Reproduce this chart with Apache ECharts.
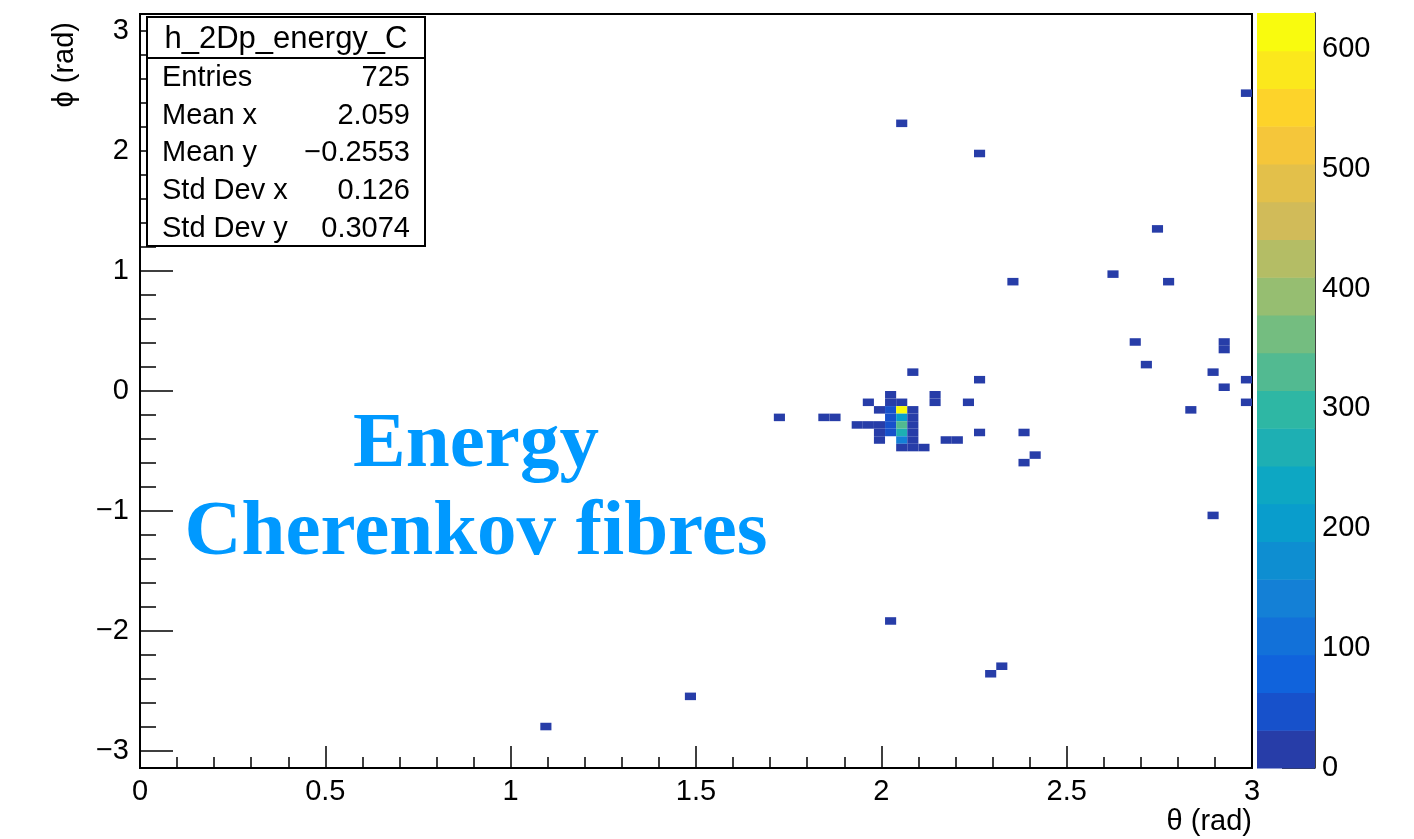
<!DOCTYPE html>
<html>
<head>
<meta charset="utf-8">
<script src="https://cdn.jsdelivr.net/npm/echarts@6/dist/echarts.min.js"></script>
<style>
  html, body { margin: 0; padding: 0; background: #ffffff; }
  #chart { width: 1414px; height: 839px; }
</style>
</head>
<body>
<div id="chart"></div>
<script>
// TH2 binning: 100 x 100 bins, theta in [0, 3] rad, phi in [-pi, pi] rad
const NX = 100, X_MIN = 0, X_MAX = 3;
const NY = 100, Y_MIN = -Math.PI, Y_MAX = Math.PI;

// Filled bins: theta bin index, phi bin index, summed energy in the bin
const binTheta  = [36, 49, 67, 76, 77, 96, 68, 75, 99, 91, 78, 87, 92, 89, 97, 97, 90, 96, 99, 97, 99, 94,
                   69, 75, 67, 71, 65, 67, 68, 71, 74, 66, 67, 68, 69, 57, 61, 62, 67, 68, 69,
                   64, 65, 66, 67, 68, 69, 66, 67, 68, 69, 75, 79, 66, 68, 69, 72, 73, 68, 69, 70, 80, 79];
const binPhi    = [ 5,  9, 19, 12, 13, 33, 85, 81, 89, 71, 64, 65, 64, 56, 56, 55, 53, 52, 51, 50, 48, 47,
                   52, 51, 49, 49, 48, 48, 48, 48, 48, 47, 47, 47, 47, 46, 46, 46, 46, 46, 46,
                   45, 45, 45, 45, 45, 45, 44, 44, 44, 44, 44, 44, 43, 43, 43, 43, 43, 42, 42, 42, 41, 40];
const binEnergy = [12,  9, 14,  8, 11,  7, 10,  6, 13,  9,  8, 11,  7, 10, 12,  9,  8,  6, 14,  7, 10,  9,
                   11,  8, 22,  9,  7, 26, 18, 12,  6, 15, 48, 630, 24,  5,  8,  6, 56, 205, 28,
                    6,  9, 17, 52, 330, 27, 13, 45, 268, 25,  7,  9, 11, 140, 21,  8, 10, 16, 19, 12,  8, 10];

// Axis tick values and labels
const xTickValues = [0, 0.5, 1, 1.5, 2, 2.5, 3];
const yTickValues = [-3, -2, -1, 0, 1, 2, 3];
const zTickValues = [0, 100, 200, 300, 400, 500, 600];
const zMax = 630;
const nContours = 20;

// Stats box contents
const statsTitle = 'h_2Dp_energy_C';
const statsNames  = ['Entries', 'Mean x', 'Mean y', 'Std Dev x', 'Std Dev y'];
const statsValues = ['725', '2.059', '\u22120.2553', '0.126', '0.3074'];

// kBird palette
const birdStops = [0.0, 0.125, 0.25, 0.375, 0.5, 0.625, 0.75, 0.875, 1.0];
const birdR = [0.2082, 0.0592, 0.0780, 0.0232, 0.1802, 0.5301, 0.8186, 0.9956, 0.9764];
const birdG = [0.1664, 0.3599, 0.5041, 0.6419, 0.7178, 0.7492, 0.7328, 0.7862, 0.9832];
const birdB = [0.5293, 0.8684, 0.8385, 0.7914, 0.6425, 0.4662, 0.3499, 0.1968, 0.0539];
function bird(t) {
  let s = 1;
  while (s < birdStops.length - 1 && t > birdStops[s]) s++;
  const f = (t - birdStops[s - 1]) / (birdStops[s] - birdStops[s - 1]);
  const c = (a) => Math.round(255 * (a[s - 1] + (a[s] - a[s - 1]) * f));
  return 'rgb(' + c(birdR) + ',' + c(birdG) + ',' + c(birdB) + ')';
}
const contourColors = [];
for (let k = 0; k < nContours; k++) {
  const idx = Math.floor((k + 0.99) * 255 / nContours);
  contourColors.push(bird(Math.min(1, idx / 254)));
}
const zStep = zMax / nContours;
function colorOf(v) {
  const k = Math.min(nContours - 1, Math.max(0, Math.floor(v / zStep)));
  return contourColors[k];
}

const FONT = '"Liberation Sans", Arial, Helvetica, sans-serif';
const SERIF = '"Liberation Serif", "Times New Roman", serif';
const minus = (v) => String(v).replace('-', '\u2212');

// minor tick positions on the phi axis (every 0.2 rad)
const yMinorTicks = [];
for (let k = -14; k <= 14; k++) {
  if (k % 5 !== 0) yMinorTicks.push(+(k * 0.2).toFixed(1));
}

const cellData = binTheta.map((ix, i) => [ix, binPhi[i], binEnergy[i]]);
const bandData = contourColors.map((c, k) => [k]);

const dx = (X_MAX - X_MIN) / NX, dy = (Y_MAX - Y_MIN) / NY;

const chart = echarts.init(document.getElementById('chart'), null, { renderer: 'canvas' });

const TOP = 100;
const statsGraphics = [
  { type: 'rect', z: TOP, shape: { x: 147, y: 17, width: 278, height: 229 },
    style: { fill: '#fff', stroke: '#000', lineWidth: 2 } },
  { type: 'line', z: TOP + 1, shape: { x1: 147, y1: 58, x2: 425, y2: 58 },
    style: { stroke: '#000', lineWidth: 2 } },
  { type: 'text', z: TOP + 1, style: { text: statsTitle, x: 286, y: 39, align: 'center', verticalAlign: 'middle',
    fontSize: 31, fontFamily: FONT, fill: '#000' } }
];
statsNames.forEach((name, i) => {
  const y = 78 + i * 37.7;
  statsGraphics.push({ type: 'text', z: TOP + 1, style: { text: name, x: 162, y: y, align: 'left', verticalAlign: 'middle',
    fontSize: 29, fontFamily: FONT, fill: '#000' } });
  statsGraphics.push({ type: 'text', z: TOP + 1, style: { text: statsValues[i], x: 410, y: y, align: 'right', verticalAlign: 'middle',
    fontSize: 29, fontFamily: FONT, fill: '#000' } });
});

const option = {
  animation: false,
  backgroundColor: '#ffffff',
  grid: [
    { left: 140, top: 14, width: 1112, height: 754, show: true, borderColor: '#000', borderWidth: 2,
      backgroundColor: '#fff', containLabel: false },
    { left: 1257, top: 13, width: 58, height: 755, show: false, containLabel: false }
  ],
  xAxis: [
    { type: 'value', gridIndex: 0, min: X_MIN, max: X_MAX, interval: 0.5,
      axisLine: { show: true, onZero: false, lineStyle: { color: '#000', width: 2 } },
      axisTick: { show: true, inside: true, length: 22, customValues: xTickValues,
        lineStyle: { color: '#000', width: 1.5 } },
      minorTick: { show: true, splitNumber: 5, length: 11, lineStyle: { color: '#000', width: 1.5 } },
      splitLine: { show: false },
      axisLabel: { margin: 9, fontSize: 29, fontFamily: FONT, color: '#000', customValues: xTickValues,
        formatter: (v) => minus(v) } },
    { type: 'value', gridIndex: 1, min: 0, max: 1, show: false }
  ],
  yAxis: [
    { type: 'value', gridIndex: 0, min: Y_MIN, max: Y_MAX, position: 'left',
      axisLine: { show: true, onZero: false, lineStyle: { color: '#000', width: 2 } },
      axisTick: { show: true, inside: true, length: 33, customValues: yTickValues,
        lineStyle: { color: '#000', width: 1.5 } },
      splitLine: { show: false },
      axisLabel: { margin: 11, fontSize: 29, fontFamily: FONT, color: '#000', customValues: yTickValues,
        formatter: (v) => minus(v) } },
    { type: 'value', gridIndex: 0, min: Y_MIN, max: Y_MAX, position: 'left',
      axisLine: { show: false },
      axisTick: { show: true, inside: true, length: 16, customValues: yMinorTicks,
        lineStyle: { color: '#000', width: 1.5 } },
      splitLine: { show: false },
      axisLabel: { show: false } },
    { type: 'value', gridIndex: 1, min: 0, max: zMax, position: 'right',
      axisLine: { show: true, onZero: false, lineStyle: { color: '#000', width: 1.5 } },
      axisTick: { show: true, inside: true, length: 33, customValues: zTickValues,
        lineStyle: { color: '#000', width: 1.5 } },
      splitLine: { show: false },
      axisLabel: { margin: 7, fontSize: 29, fontFamily: FONT, color: '#000', customValues: zTickValues } }
  ],
  series: [
    {
      type: 'custom', name: 'cells', xAxisIndex: 0, yAxisIndex: 0, clip: true,
      data: cellData,
      encode: { x: 0, y: 1 },
      renderItem: (params, api) => {
        const x0 = X_MIN + api.value(0) * dx;
        const y0 = Y_MIN + api.value(1) * dy;
        const p0 = api.coord([x0, y0]);
        const p1 = api.coord([x0 + dx, y0 + dy]);
        return { type: 'rect',
          shape: { x: p0[0], y: p1[1], width: p1[0] - p0[0], height: p0[1] - p1[1] },
          style: { fill: colorOf(api.value(2)) } };
      }
    },
    {
      type: 'custom', name: 'palette', xAxisIndex: 1, yAxisIndex: 2, z: 1,
      data: bandData,
      renderItem: (params, api) => {
        const k = api.value(0);
        const p0 = api.coord([0, k * zStep]);
        const p1 = api.coord([1, (k + 1) * zStep]);
        return { type: 'rect',
          shape: { x: p0[0], y: p1[1], width: p1[0] - p0[0], height: p0[1] - p1[1] + 0.5 },
          style: { fill: contourColors[k] } };
      }
    }
  ],
  graphic: [
    { type: 'group', z: TOP, children: statsGraphics },
    { type: 'text', z: TOP, x: 65, y: 22, rotation: Math.PI / 2,
      style: { text: '\u03D5 (rad)', x: 0, y: 0, align: 'right', verticalAlign: 'middle',
        fontSize: 29, fontFamily: FONT, fill: '#000' } },
    { type: 'text', z: TOP, style: { text: '\u03B8 (rad)', x: 1252, y: 822, align: 'right', verticalAlign: 'middle',
      fontSize: 29, fontFamily: FONT, fill: '#000' } },
    { type: 'text', z: TOP, style: { text: 'Energy', x: 476, y: 406, align: 'center', verticalAlign: 'top',
      fontSize: 79, fontWeight: 'bold', fontFamily: SERIF, fill: '#0099ff' } },
    { type: 'text', z: TOP, style: { text: 'Cherenkov fibres', x: 476, y: 494, align: 'center', verticalAlign: 'top',
      fontSize: 79, fontWeight: 'bold', fontFamily: SERIF, fill: '#0099ff' } }
  ]
};

chart.setOption(option);
</script>
</body>
</html>
